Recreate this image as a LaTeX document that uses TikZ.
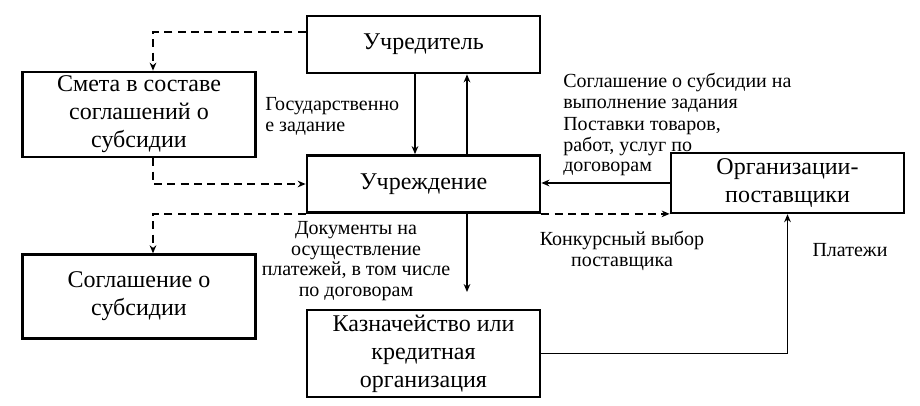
\documentclass[tikz,border=0pt]{standalone}
\usepackage{fontspec}
\setmainfont{Liberation Serif}
\usetikzlibrary{arrows.meta,positioning,calc}
\tikzset{
  blk/.style={draw,line width=1.8pt,minimum width=175pt,align=center,inner sep=1pt,
    font=\fontsize{18}{21}\selectfont},
  lbl/.style={inner sep=0pt,font=\fontsize{15}{15.5}\selectfont},
  link/.style={-{Stealth[length=6pt,width=5pt]},line width=1.2pt},
  dlink/.style={link,dash pattern=on 6pt off 4pt},
}
\begin{document}
\begin{tikzpicture}[x=0.75pt,y=0.75pt]
  \useasboundingbox (0,0) rectangle (920,405);
  % boxes
  \node[blk,minimum height=43pt] (uchr) at (423.5,360.5) {Учредитель};
  \node[blk,minimum height=64pt] (smeta) at (139,290.5) {Смета в составе\\соглашений о\\субсидии};
  \node[blk,minimum height=43pt] (uchrezh) at (423.5,221) {Учреждение};
  \node[blk,minimum height=45pt] (org) at (787.5,222) {Организации-\\поставщики};
  \node[blk,minimum height=63pt] (sogl) at (139,108.5) {Соглашение о\\субсидии};
  \node[blk,minimum height=65pt] (kazn) at (423.5,51.5) {Казначейство или\\кредитная\\организация};
  % links
  \draw[dlink] ($(uchr.west)+(0,12.5)$) -| ($(smeta.north)+(14,0)$);
  \draw[dlink] ($(smeta.south)+(14,0)$) |- (uchrezh.west);
  \draw[link] ($(uchr.south)+(-8.5,0)$) -- ($(uchrezh.north)+(-8.5,0)$);
  \draw[link] ($(uchrezh.north)+(43.5,0)$) -- ($(uchr.south)+(43.5,0)$);
  \draw[link] (org.west) -- (org.west -| uchrezh.east);
  \draw[dlink] (uchrezh.south east) -- (uchrezh.south east -| org.west);
  \draw[dlink] (uchrezh.south west) -| ($(sogl.north)+(14,0)$);
  \coordinate (docend) at (467,113);
  \draw[link] ($(uchrezh.south)+(43.5,0)$) -- (docend);
  \draw[link] (kazn.east) -| (org.south);
  % labels
  \node[lbl,anchor=north west,align=left] (gosLbl) at (265,308) {Государственно\\е задание};
  \node[lbl,anchor=north west,align=left] (soglLbl) at (563,332) {Соглашение о субсидии на\\выполнение задания};
  \node[lbl,anchor=north west,align=left] (postLbl) at (563,288) {Поставки товаров,\\работ, услуг по\\договорам};
  \node[lbl,align=center] (docLbl) at (356,144) {Документы на\\осуществление\\платежей, в том числе\\по договорам};
  \node[lbl,align=center] (konkLbl) at (622,154) {Конкурсный выбор\\поставщика};
  \node[lbl] (platLbl) at (850,155) {Платежи};
\end{tikzpicture}
\end{document}
